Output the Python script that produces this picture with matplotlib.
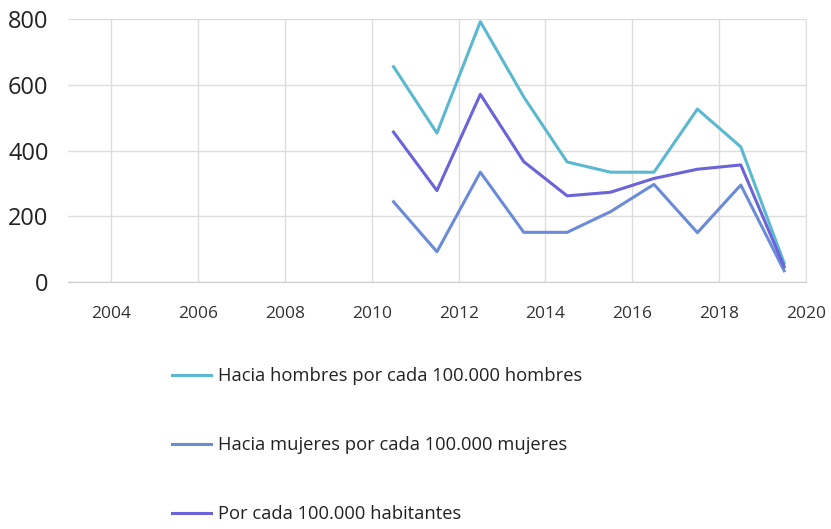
import matplotlib.pyplot as plt

plt.rcParams['font.family'] = ['Open Sans', 'DejaVu Sans']

anios = [2010.5, 2011.5, 2012.5, 2013.5, 2014.5, 2015.5, 2016.5, 2017.5, 2018.5, 2019.5]
hombres = [655, 453, 792, 563, 365, 334, 334, 526, 411, 57]
mujeres = [244, 92, 334, 151, 151, 214, 297, 150, 295, 34]
habitantes = [456, 278, 571, 366, 262, 273, 315, 343, 356, 46]

etiquetas = ['Hacia hombres por cada 100.000 hombres',
             'Hacia mujeres por cada 100.000 mujeres',
             'Por cada 100.000 habitantes']
colores = ['#5ab8d0', '#6a8bd8', '#6b63d9']

fig = plt.figure(figsize=(8.31, 5.29), dpi=100)
ax = fig.add_axes([0.0818, 0.467, 0.888, 0.497])

for serie, lab, col in zip([hombres, mujeres, habitantes], etiquetas, colores):
    ax.plot(anios, serie, color=col, lw=2.2, label=lab)

ax.set_xlim(2003, 2020)
ax.set_ylim(0, 800)
ax.set_xticks(range(2004, 2021, 2))
ax.set_yticks(range(0, 801, 200))
ax.grid(True, color='#dddddd', lw=1)
ax.set_axisbelow(True)
for s in ['left', 'top']:
    ax.spines[s].set_visible(False)
ax.spines['right'].set_color('#dddddd')
ax.spines['bottom'].set_color('#cccccc')
ax.tick_params(length=0)
ax.tick_params(axis='x', labelsize=12.5, pad=17, colors='#333333')
ax.tick_params(axis='y', labelsize=17, pad=14, colors='#222222')

fig.legend(loc='upper left', bbox_to_anchor=(0.196, 0.323), frameon=False,
           fontsize=13.2, labelspacing=2.78, handlelength=2.1,
           handletextpad=0.42, borderpad=0, labelcolor='#222222')

fig.savefig('out.png', dpi=100)
